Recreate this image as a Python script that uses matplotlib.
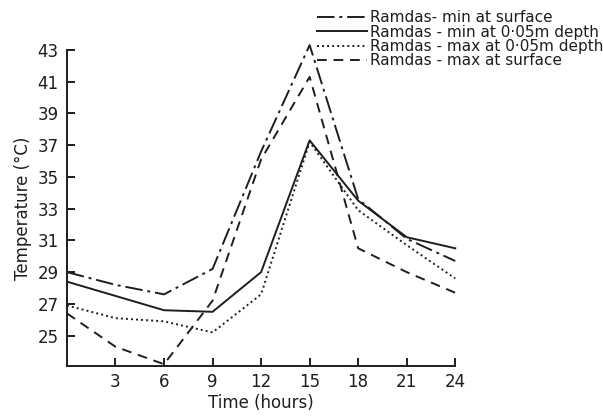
import matplotlib
matplotlib.use("Agg")
import matplotlib.pyplot as plt

# ---- data ----
hours = [0, 3, 6, 9, 12, 15, 18, 21, 24]
min_surface = [29.0, 28.2, 27.6, 29.2, 36.6, 43.3, 33.6, 31.1, 29.7]
min_depth   = [28.4, 27.5, 26.6, 26.5, 29.0, 37.3, 33.5, 31.2, 30.5]
max_depth   = [26.9, 26.1, 25.9, 25.2, 27.6, 37.2, 32.9, 30.7, 28.6]
max_surface = [26.4, 24.3, 23.2, 27.2, 36.1, 41.3, 30.5, 29.0, 27.7]
labels = ["Ramdas- min at surface",
          "Ramdas - min at 0·05m depth",
          "Ramdas - max at 0·05m depth",
          "Ramdas - max at surface"]
xticks = [3, 6, 9, 12, 15, 18, 21, 24]
yticks = [25, 27, 29, 31, 33, 35, 37, 39, 41, 43]

INK = "#1e1e1e"

fig = plt.figure(figsize=(6.03, 4.19), dpi=100)
ax = fig.add_axes([0.111, 0.127, 0.644, 0.754])

kw = dict(color=INK, lw=1.4, clip_on=False)
ax.plot(hours, min_surface, linestyle=(0, (9, 2.5, 1.5, 2.5)), label=labels[0], **kw)
ax.plot(hours, min_depth, linestyle="-", label=labels[1], **kw)
ax.plot(hours, max_depth, linestyle=(0, (1, 1.6)), label=labels[2], **kw)
ax.plot(hours, max_surface, linestyle=(0, (5, 3.5)), label=labels[3], **kw)

ax.set_xlim(0, 24)
ax.set_ylim(23.1, 43)
ax.set_xticks(xticks)
ax.set_yticks(yticks)
for s in ("top", "right"):
    ax.spines[s].set_visible(False)
for s in ("left", "bottom"):
    ax.spines[s].set_color(INK)
    ax.spines[s].set_linewidth(1.4)
ax.tick_params(direction="in", length=6, width=1.4, colors=INK, labelsize=12, pad=6)
ax.tick_params(axis="x", pad=5)

ax.set_xlabel("Time (hours)", fontsize=12, color=INK, labelpad=2)
ax.set_ylabel("Temperature (°C)", fontsize=12, color=INK, labelpad=4)

fig.legend(loc="upper left", bbox_to_anchor=(0.525, 0.975), frameon=False,
           fontsize=11, handlelength=3.3, handletextpad=0.2, labelspacing=-0.05,
           borderaxespad=0.0, borderpad=0.0, labelcolor=INK)

fig.savefig("out.png", dpi=100)
